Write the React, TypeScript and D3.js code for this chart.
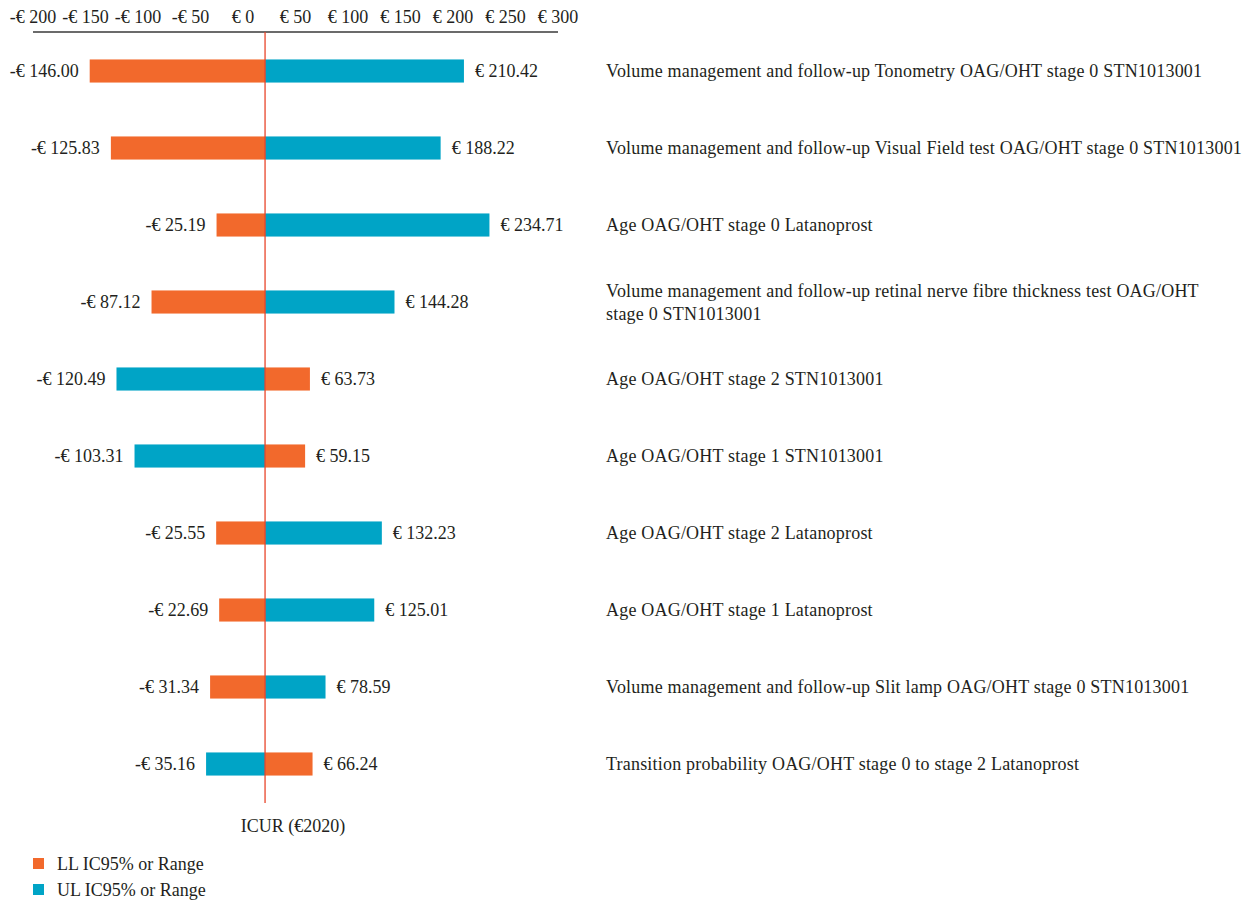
import React from "react";
import * as d3 from "d3";

// row labels, top to bottom
const factors = [
  "Volume management and follow-up Tonometry OAG/OHT stage 0 STN1013001",
  "Volume management and follow-up Visual Field test OAG/OHT stage 0 STN1013001",
  "Age OAG/OHT stage 0 Latanoprost",
  "Volume management and follow-up retinal nerve fibre thickness test OAG/OHT|stage 0 STN1013001",
  "Age OAG/OHT stage 2 STN1013001",
  "Age OAG/OHT stage 1 STN1013001",
  "Age OAG/OHT stage 2 Latanoprost",
  "Age OAG/OHT stage 1 Latanoprost",
  "Volume management and follow-up Slit lamp OAG/OHT stage 0 STN1013001",
  "Transition probability OAG/OHT stage 0 to stage 2 Latanoprost",
];
const lowerLimit = [-146.0, -125.83, -25.19, -87.12, 63.73, 59.15, -25.55, -22.69, -31.34, 66.24];
const upperLimit = [210.42, 188.22, 234.71, 144.28, -120.49, -103.31, 132.23, 125.01, 78.59, -35.16];
const baseCase = 21; // base-case ICUR where the bars meet
const ticks = [-200, -150, -100, -50, 0, 50, 100, 150, 200, 250, 300];

const ORANGE = "#f2692c";
const BLUE = "#00a4c6";
const INK = "#231f20";
const FONT = "'Liberation Serif', 'Times New Roman', serif";
const FS = 18;

const fmt = (v: number, dec: number) =>
  (v < 0 ? "-€ " : "€ ") + Math.abs(v).toFixed(dec);

export default function App() {
  const width = 1252;
  const height = 902;

  const x = d3.scaleLinear().domain([-200, 300]).range([33, 558]);
  const y = d3
    .scaleBand<number>()
    .domain(d3.range(factors.length))
    .range([32.5, 802.5])
    .paddingInner(0.7)
    .paddingOuter(0.35);
  const bh = y.bandwidth();
  const x0 = x(baseCase);

  const bar = (v: number, color: string, i: number, key: string) => {
    const xv = x(v);
    const cy = y(i)! + bh / 2;
    const right = xv > x0;
    return (
      <g key={key}>
        <rect x={Math.min(x0, xv)} y={y(i)} width={Math.abs(xv - x0)} height={bh} fill={color} />
        <text
          x={right ? xv + 11 : xv - 11}
          y={cy}
          dy="0.35em"
          textAnchor={right ? "start" : "end"}
          fontSize={FS}
          fill={INK}
        >
          {fmt(v, 2)}
        </text>
      </g>
    );
  };

  return (
    <svg
      width={width}
      height={height}
      style={{ position: "absolute", left: 0, top: 0, background: "#fff" }}
      fontFamily={FONT}
    >
      {/* top axis */}
      {ticks.map((t) => (
        <text key={t} x={x(t)} y={23} textAnchor="middle" fontSize={FS} fill={INK}>
          {fmt(t, 0)}
        </text>
      ))}
      <line x1={x(-200)} x2={x(300)} y1={32} y2={32} stroke="#3a3a3a" strokeWidth={1.5} />

      {factors.map((f, i) => (
        <g key={i}>
          {bar(lowerLimit[i], ORANGE, i, "ll")}
          {bar(upperLimit[i], BLUE, i, "ul")}
          {f.includes("|") ? (
            <text x={606} y={y(i)! + bh / 2 - 11.5} fontSize={FS} letterSpacing={0.2} fill={INK}>
              {f.split("|").map((line, j) => (
                <tspan key={j} x={606} dy={j === 0 ? "0.35em" : 23}>
                  {line}
                </tspan>
              ))}
            </text>
          ) : (
            <text x={606} y={y(i)! + bh / 2} dy="0.35em" fontSize={FS} letterSpacing={0.2} fill={INK}>
              {f}
            </text>
          )}
        </g>
      ))}

      <line x1={x0} x2={x0} y1={32} y2={803} stroke="#e8452a" strokeWidth={1.3} />

      <text x={293} y={832} textAnchor="middle" fontSize={FS} fill={INK}>
        ICUR (€2020)
      </text>

      {/* legend */}
      {[
        ["LL IC95% or Range", ORANGE],
        ["UL IC95% or Range", BLUE],
      ].map(([label, color], i) => (
        <g key={label} transform={`translate(33, ${858 + i * 26})`}>
          <rect width={11} height={11} fill={color} />
          <text x={24} y={5.5} dy="0.35em" fontSize={FS} fill={INK}>
            {label}
          </text>
        </g>
      ))}
    </svg>
  );
}
